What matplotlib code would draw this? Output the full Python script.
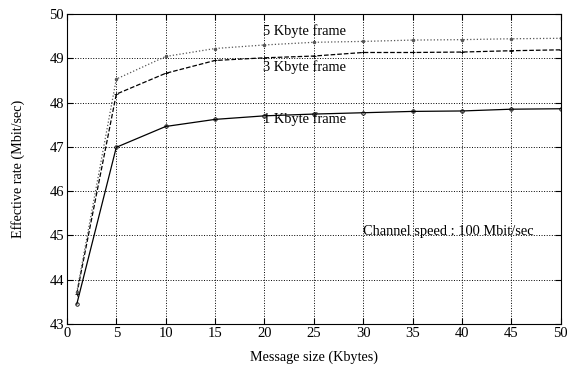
import matplotlib
matplotlib.use("Agg")
import matplotlib.pyplot as plt

plt.rcParams['font.family'] = ['Liberation Serif', 'DejaVu Serif']

msg_kb = [1, 5, 10, 15, 20, 25, 30, 35, 40, 45, 50]
rate_1k = [43.45, 46.99, 47.46, 47.62, 47.70, 47.74, 47.77, 47.80, 47.81, 47.85, 47.86]
rate_3k = [43.68, 48.19, 48.66, 48.95, 49.01, 49.05, 49.13, 49.13, 49.14, 49.17, 49.19]
rate_5k = [43.72, 48.53, 49.04, 49.22, 49.30, 49.36, 49.38, 49.41, 49.42, 49.44, 49.45]

fig = plt.figure(figsize=(5.67, 3.67), dpi=100)
ax = fig.add_axes([0.118, 0.117, 0.871, 0.845])

ax.plot(msg_kb, rate_1k, '-', color='black', lw=0.9, marker='o', ms=2.5, mfc='none', mew=0.6)
ax.plot(msg_kb, rate_3k, '--', color='black', lw=0.9, marker='+', ms=3, mew=0.6)
ax.plot(msg_kb, rate_5k, ':', color='#555555', lw=0.9, marker='.', ms=3)

ax.text(19.9, 49.62, '5 Kbyte frame', fontsize=10.4, va='center')
ax.text(19.9, 48.81, '3 Kbyte frame', fontsize=10.4, va='center')
ax.text(19.9, 47.62, '1 Kbyte frame', fontsize=10.4, va='center')
ax.text(30.0, 45.10, 'Channel speed : 100 Mbit/sec', fontsize=10.4, va='center')

ax.set_xlim(0, 50)
ax.set_ylim(43, 50)
ax.set_xticks(range(0, 51, 5))
ax.set_yticks(range(43, 51))
ax.grid(True, linestyle=':', color='black', lw=0.7)
ax.tick_params(direction='in', top=True, right=True, labelsize=10.5, length=4, pad=2)

# axis labels placed by hand to keep them inside the small figure
xl = ax.set_xlabel('Message size (Kbytes)', fontsize=10.2, va='center')
ax.xaxis.set_label_coords(0.5, -33 / 310)
yl = ax.set_ylabel('Effective rate (Mbit/sec)', fontsize=10.2, va='center')
ax.yaxis.set_label_coords(-49 / 494, 0.5)

fig.savefig('out.png', dpi=100)
